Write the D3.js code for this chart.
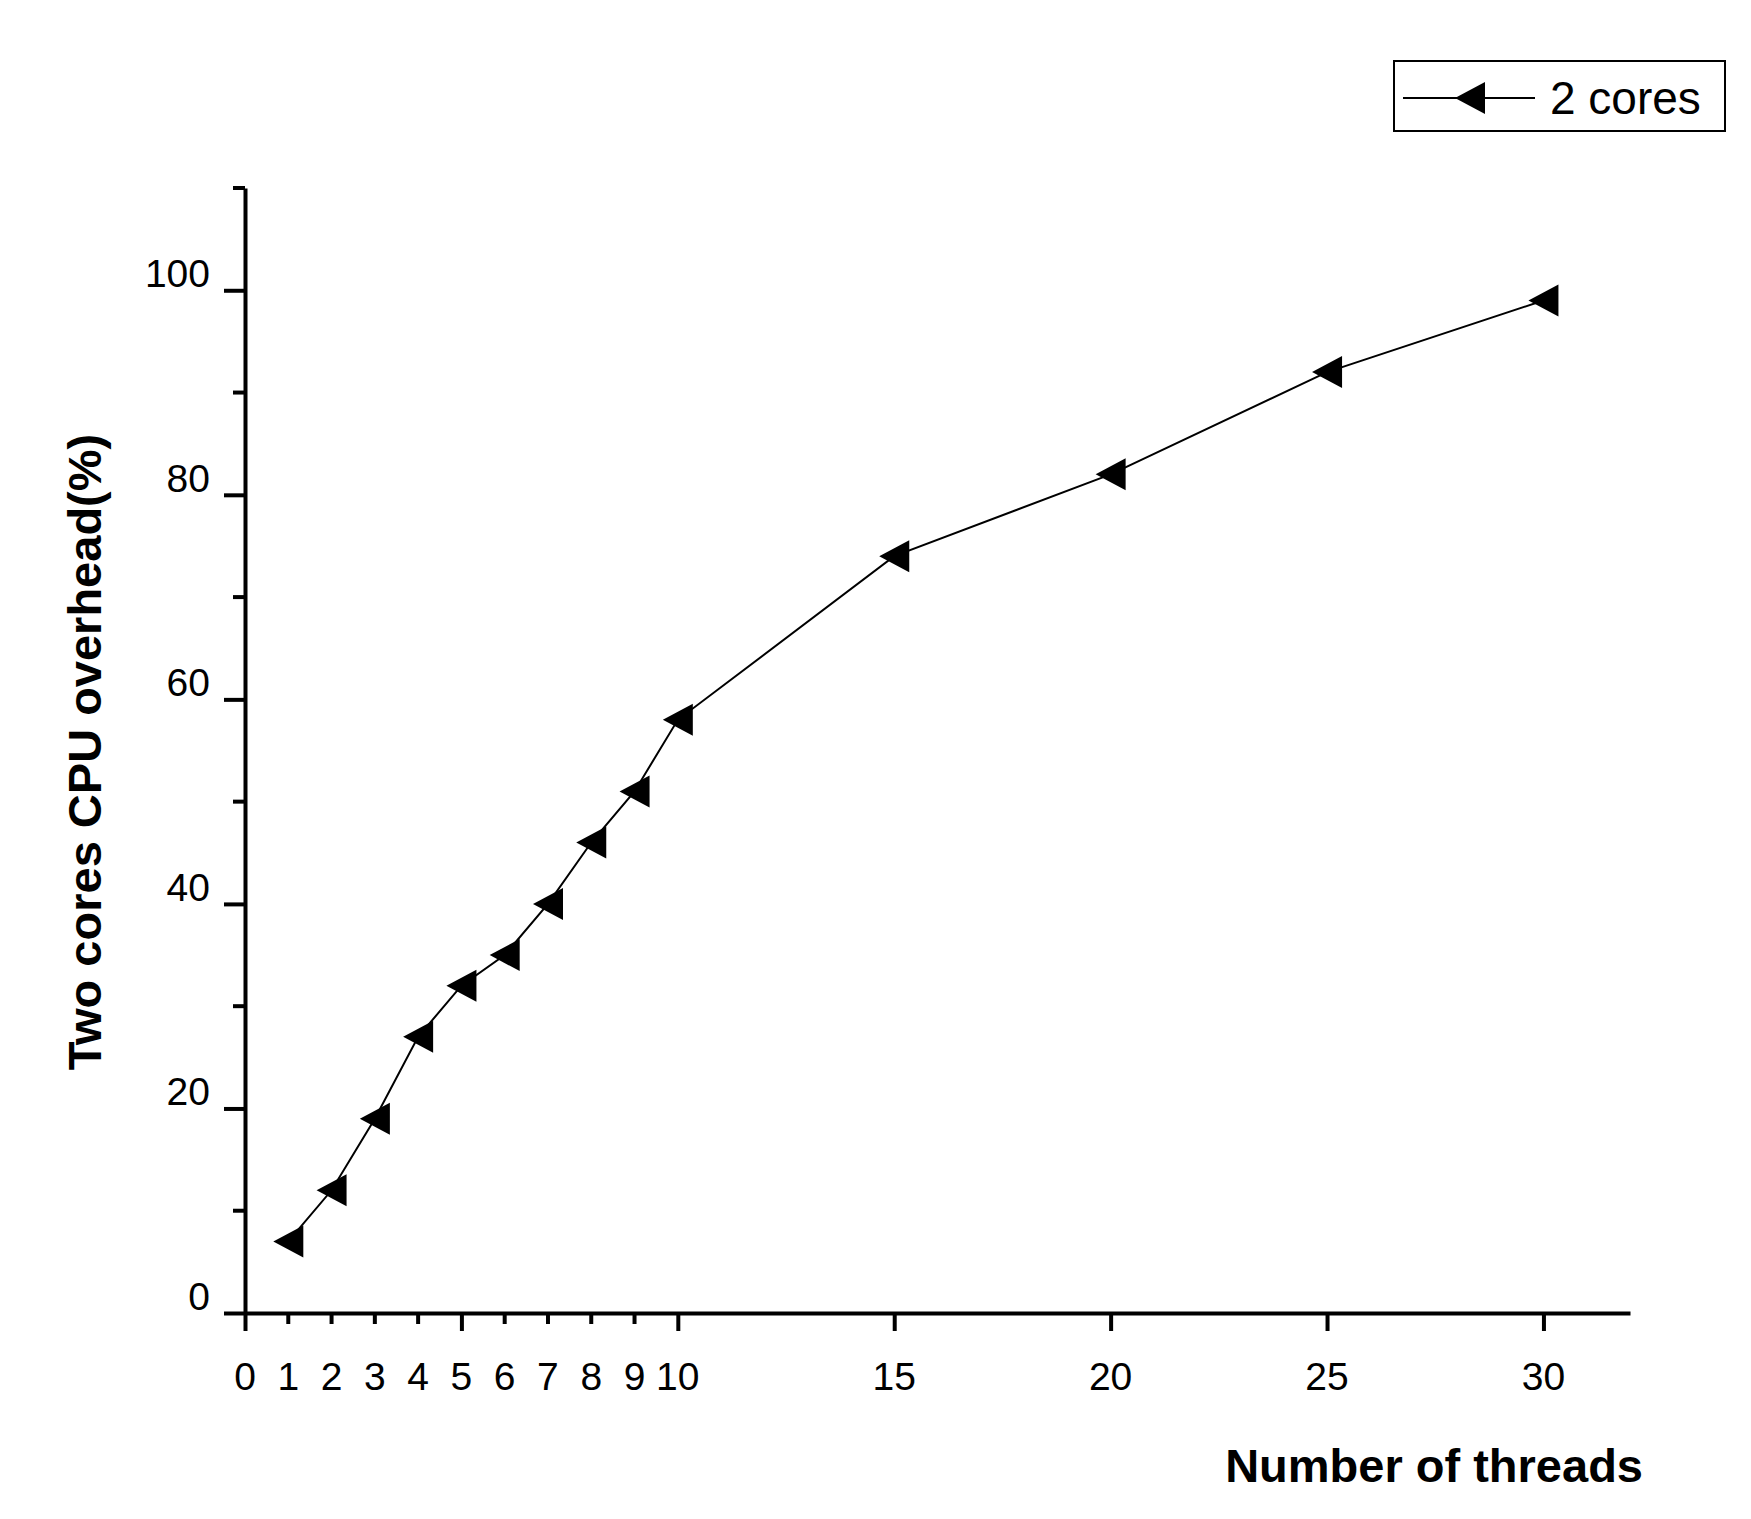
<!DOCTYPE html>
<html>
<head>
<meta charset="UTF-8">
<script src="https://d3js.org/d3.v7.min.js"></script>
<style>
  body { margin: 0; background: #fff; }
  text { font-family: Arial, "Liberation Sans", sans-serif; fill: #000; }
</style>
</head>
<body>
<div class="canvas"></div>
<script>
const threads = [1, 2, 3, 4, 5, 6, 7, 8, 9, 10, 15, 20, 25, 30];
const overhead = [7, 12, 19, 27, 32, 35, 40, 46, 51, 58, 74, 82, 92, 99];
const xLabels = [0, 1, 2, 3, 4, 5, 6, 7, 8, 9, 10, 15, 20, 25, 30];
const xMinor = [1, 2, 3, 4, 6, 7, 8, 9];
const yLabels = [0, 20, 40, 60, 80, 100];
const yMinor = [10, 30, 50, 70, 90, 110];

const W = 1751, H = 1519;
const m = {left: 245, top: 188, right: 1630, bottom: 1313};

const svg = d3.select('.canvas').append('svg').attr('width', W).attr('height', H);

const x = d3.scaleLinear().domain([0, 32]).range([m.left, m.right]);
const y = d3.scaleLinear().domain([0, 110]).range([m.bottom, m.top]);

// x axis
const gx = svg.append('g').attr('transform', `translate(0,${m.bottom})`);
gx.call(d3.axisBottom(x).tickValues([0, 5, 10, 15, 20, 25, 30]).tickSize(18).tickSizeOuter(0).tickFormat(''));
gx.call(g => g.select('.domain').attr('stroke-width', 4));
gx.selectAll('.tick line').attr('stroke-width', 4);
gx.selectAll('.minor').data(xMinor).enter().append('line')
  .attr('x1', d => x(d)).attr('x2', d => x(d)).attr('y1', 0).attr('y2', 11)
  .attr('stroke', '#000').attr('stroke-width', 4);
gx.selectAll('.lbl').data(xLabels).enter().append('text')
  .attr('x', d => x(d)).attr('y', 77).attr('text-anchor', 'middle')
  .attr('font-size', 39).text(d => d);

// y axis
const gy = svg.append('g').attr('transform', `translate(${m.left},0)`);
gy.call(d3.axisLeft(y).tickValues(yLabels).tickSize(21).tickSizeOuter(0).tickFormat(''));
gy.call(g => g.select('.domain').attr('stroke-width', 4));
gy.selectAll('.tick line').attr('stroke-width', 4);
gy.selectAll('.minor').data(yMinor).enter().append('line')
  .attr('x1', 0).attr('x2', -12).attr('y1', d => y(d)).attr('y2', d => y(d))
  .attr('stroke', '#000').attr('stroke-width', 4);
gy.selectAll('.lbl').data(yLabels).enter().append('text')
  .attr('x', -35).attr('y', d => y(d)).attr('dy', '-0.08em').attr('text-anchor', 'end')
  .attr('font-size', 39).text(d => d);

// titles
svg.append('text').attr('x', 1643).attr('y', 1482).attr('text-anchor', 'end')
  .attr('font-size', 47).attr('font-weight', 'bold').text('Number of threads');
svg.append('text').attr('transform', `translate(101,752) rotate(-90)`).attr('text-anchor', 'middle')
  .attr('font-size', 47).attr('font-weight', 'bold').text('Two cores CPU overhead(%)');

// series
const pts = threads.map((t, i) => [t, overhead[i]]);
svg.append('path').datum(pts)
  .attr('d', d3.line().x(d => x(d[0])).y(d => y(d[1])))
  .attr('fill', 'none').attr('stroke', '#000').attr('stroke-width', 2);

const tri = 'M-15,0L15,-16L15,16Z';
svg.selectAll('.pt').data(pts).enter().append('path')
  .attr('d', tri).attr('transform', d => `translate(${x(d[0])},${y(d[1])})`)
  .attr('fill', '#000');

// legend
const lg = svg.append('g').attr('transform', 'translate(1394,61)');
lg.append('rect').attr('width', 331).attr('height', 70).attr('fill', 'none')
  .attr('stroke', '#000').attr('stroke-width', 2);
lg.append('line').attr('x1', 9).attr('x2', 141).attr('y1', 37).attr('y2', 37)
  .attr('stroke', '#000').attr('stroke-width', 2);
lg.append('path').attr('d', tri).attr('transform', 'translate(76,37)').attr('fill', '#000');
lg.append('text').attr('x', 156).attr('y', 53).attr('font-size', 46).text('2 cores');
</script>
</body>
</html>
